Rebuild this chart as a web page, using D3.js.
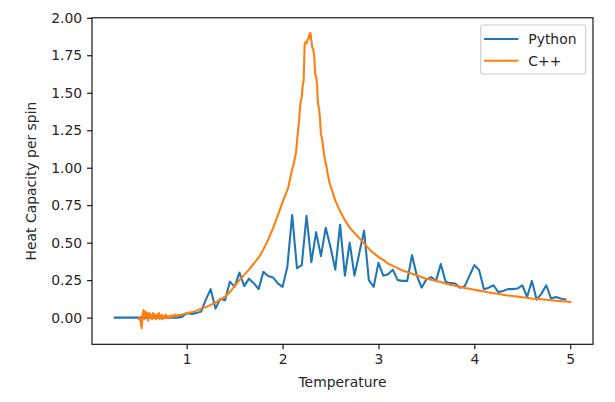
<!DOCTYPE html>
<html>
<head>
<meta charset="utf-8">
<script src="https://cdn.jsdelivr.net/npm/d3@7/dist/d3.min.js"></script>
<style>
  html, body { margin: 0; padding: 0; background: #fff; }
  svg { display: block; font-family: "DejaVu Sans", sans-serif; }
</style>
</head>
<body>
<svg id="chart" width="615" height="402"></svg>
<script>
// ---- Data ----
const seriesNames = ["Python", "C++"];
const seriesColors = ["#1f77b4", "#ff7f0e"];

const pythonT = [0.25,0.30,0.35,0.40,0.45,0.50,0.55,0.60,0.65,0.70,0.75,0.80,0.85,0.90,0.95,
  1.00,1.05,1.10,1.15,1.20,1.25,1.30,1.35,1.40,1.45,1.50,1.55,1.60,1.65,1.70,1.75,1.80,1.85,1.90,1.95,
  2.00,2.05,2.10,2.15,2.20,2.25,2.30,2.35,2.40,2.45,2.50,2.55,2.60,2.65,2.70,2.75,2.80,2.85,2.90,2.95,
  3.00,3.05,3.10,3.15,3.20,3.25,3.30,3.35,3.40,3.45,3.50,3.55,3.60,3.65,3.70,3.75,3.80,3.85,3.90,3.95,
  4.00,4.05,4.10,4.15,4.20,4.25,4.30,4.35,4.40,4.45,4.50,4.55,4.60,4.65,4.70,4.75,4.80,4.85,4.90,4.95];
const pythonC = [0,0,0,0,0,0,0,0,0,0,0,0,0,0,0.005,
  0.03,0.025,0.03,0.04,0.12,0.19,0.06,0.125,0.115,0.24,0.205,0.30,0.21,0.26,0.23,0.19,0.305,0.277,0.268,0.228,
  0.205,0.34,0.685,0.33,0.35,0.68,0.37,0.57,0.41,0.60,0.47,0.32,0.62,0.28,0.50,0.28,0.43,0.58,0.25,0.205,
  0.365,0.28,0.29,0.32,0.25,0.245,0.245,0.417,0.28,0.20,0.255,0.27,0.245,0.357,0.24,0.23,0.228,0.20,0.21,0.28,
  0.35,0.317,0.19,0.20,0.216,0.17,0.178,0.19,0.19,0.194,0.216,0.138,0.245,0.12,0.16,0.216,0.127,0.138,0.127,0.12];

const cppT = [0.50,0.51,0.52,0.53,0.54,0.55,0.56,0.57,0.58,0.59,0.60,0.61,0.62,0.63,0.64,0.65,0.66,0.67,0.68,0.69,
  0.70,0.71,0.72,0.73,0.74,0.75,0.76,0.77,0.78,0.79,0.80,0.81,0.82,0.83,0.84,0.85,0.86,0.87,0.88,0.89,0.90,
  0.95,1.00,1.05,1.10,1.15,1.20,1.25,1.30,1.35,1.40,1.45,1.50,1.55,1.60,1.65,1.70,1.75,1.80,1.85,1.90,1.95,2.00,
  2.05,2.06,2.07,2.08,2.09,2.10,2.11,2.12,2.13,2.14,2.15,2.16,2.17,2.18,2.19,2.20,2.21,2.22,2.23,2.24,2.25,2.26,2.27,2.28,2.29,
  2.30,2.31,2.32,2.33,2.34,2.35,2.36,2.37,2.38,2.39,2.40,2.41,2.42,2.43,2.44,2.45,2.46,2.47,2.48,2.49,2.50,
  2.55,2.60,2.65,2.70,2.75,2.80,2.85,2.90,2.95,3.00,3.05,3.10,3.15,3.20,3.25,3.30,3.35,3.40,3.45,3.50,
  3.55,3.60,3.65,3.70,3.75,3.80,3.85,3.90,3.95,4.00,4.05,4.10,4.15,4.20,4.25,4.30,4.35,4.40,4.45,4.50,
  4.55,4.60,4.65,4.70,4.75,4.80,4.85,4.90,4.95,5.00];
const cppC = [-0.01,0.00,-0.03,-0.07,0.02,0.05,-0.01,0.04,0.01,0.03,-0.02,0.03,0.00,0.02,-0.01,0.03,0.00,0.02,-0.01,0.02,
  0.00,0.03,-0.01,0.01,0.02,-0.01,0.01,0.00,0.02,0.00,0.01,-0.005,0.01,0.005,0.015,0.005,0.015,0.01,0.02,0.01,0.015,
  0.02,0.03,0.035,0.045,0.06,0.07,0.085,0.10,0.12,0.14,0.17,0.21,0.25,0.285,0.32,0.36,0.40,0.455,0.52,0.595,0.68,0.77,
  0.85,0.87,0.90,0.93,0.96,0.99,1.01,1.04,1.07,1.10,1.17,1.24,1.30,1.38,1.45,1.47,1.55,1.58,1.82,1.84,1.83,1.85,1.86,1.89,1.90,
  1.85,1.80,1.79,1.75,1.62,1.61,1.55,1.42,1.40,1.33,1.22,1.20,1.15,1.10,1.06,1.03,1.00,0.96,0.93,0.90,0.88,
  0.78,0.71,0.65,0.60,0.565,0.53,0.495,0.46,0.43,0.405,0.385,0.36,0.345,0.33,0.315,0.305,0.293,0.282,0.27,0.26,
  0.252,0.245,0.237,0.228,0.22,0.212,0.205,0.198,0.192,0.186,0.18,0.174,0.168,0.163,0.158,0.153,0.148,0.144,0.14,0.136,
  0.132,0.128,0.125,0.122,0.119,0.116,0.113,0.11,0.107,0.104];

const xTicks = [1, 2, 3, 4, 5];
const yTicks = [0.00, 0.25, 0.50, 0.75, 1.00, 1.25, 1.50, 1.75, 2.00];
const xLabel = "Temperature";
const yLabel = "Heat Capacity per spin";

// ---- Layout ----
const W = 615, H = 402;
const plot = { left: 92, right: 593, top: 17.8, bottom: 344.3 };
const fontSize = 13.9;

const svg = d3.select("#chart");

const allT = pythonT.concat(cppT);
const [tMin, tMax] = d3.extent(allT);
const tPad = (tMax - tMin) * 0.05;
const x = d3.scaleLinear().domain([tMin - tPad, tMax + tPad]).range([plot.left, plot.right]);
const y = d3.scaleLinear().domain([-0.178, 2.0]).range([plot.bottom, plot.top]);

// Axes
const xAxis = d3.axisBottom(x).tickValues(xTicks).tickFormat(d3.format("d")).tickSize(4.9).tickPadding(4.9);
const yAxis = d3.axisLeft(y).tickValues(yTicks).tickFormat(d3.format(".2f")).tickSize(4.9).tickPadding(4.9);

const gx = svg.append("g").attr("transform", `translate(0,${plot.bottom})`).call(xAxis);
const gy = svg.append("g").attr("transform", `translate(${plot.left},0)`).call(yAxis);
[gx, gy].forEach(g => {
  g.select(".domain").remove();
  g.selectAll(".tick line").attr("stroke", "#000").attr("stroke-width", 1.1);
  g.selectAll(".tick text").attr("fill", "#262626").style("font-size", fontSize + "px")
    .style("font-family", "'DejaVu Sans', sans-serif");
});

// Lines
const line = d3.line().x(d => x(d[0])).y(d => y(d[1]));
const pyData = pythonT.map((t, i) => [t, pythonC[i]]);
const cppData = cppT.map((t, i) => [t, cppC[i]]);

const clip = svg.append("clipPath").attr("id", "clip").append("rect")
  .attr("x", plot.left).attr("y", plot.top)
  .attr("width", plot.right - plot.left).attr("height", plot.bottom - plot.top);

const lines = svg.append("g").attr("clip-path", "url(#clip)");
[pyData, cppData].forEach((data, i) => {
  lines.append("path").datum(data)
    .attr("fill", "none")
    .attr("stroke", seriesColors[i])
    .attr("stroke-width", 2.08)
    .attr("stroke-linejoin", "round")
    .attr("stroke-linecap", "square")
    .attr("d", line);
});

// Spines
svg.append("rect")
  .attr("x", plot.left).attr("y", plot.top)
  .attr("width", plot.right - plot.left).attr("height", plot.bottom - plot.top)
  .attr("fill", "none").attr("stroke", "#000").attr("stroke-width", 1.1);

// Axis labels
svg.append("text")
  .attr("x", (plot.left + plot.right) / 2).attr("y", 387)
  .attr("text-anchor", "middle").attr("fill", "#262626")
  .style("font-size", fontSize + "px").text(xLabel);

svg.append("text")
  .attr("transform", `translate(36,${(plot.top + plot.bottom) / 2}) rotate(-90)`)
  .attr("text-anchor", "middle").attr("fill", "#262626")
  .style("font-size", fontSize + "px").text(yLabel);

// Legend
const leg = svg.append("g");
leg.append("rect")
  .attr("x", 480.7).attr("y", 25).attr("width", 105).attr("height", 49)
  .attr("rx", 2.8).attr("ry", 2.8)
  .attr("fill", "#fff").attr("fill-opacity", 0.8)
  .attr("stroke", "#cccccc").attr("stroke-width", 1.1);
seriesNames.forEach((name, i) => {
  const yy = 39 + i * 21.7;
  leg.append("line").attr("x1", 485).attr("x2", 517.3).attr("y1", yy).attr("y2", yy)
    .attr("stroke", seriesColors[i]).attr("stroke-width", 2.08).attr("stroke-linecap", "square");
  leg.append("text").attr("x", 528.3).attr("y", yy).attr("dy", "0.36em")
    .attr("fill", "#262626").style("font-size", fontSize + "px").text(name);
});
</script>
</body>
</html>
